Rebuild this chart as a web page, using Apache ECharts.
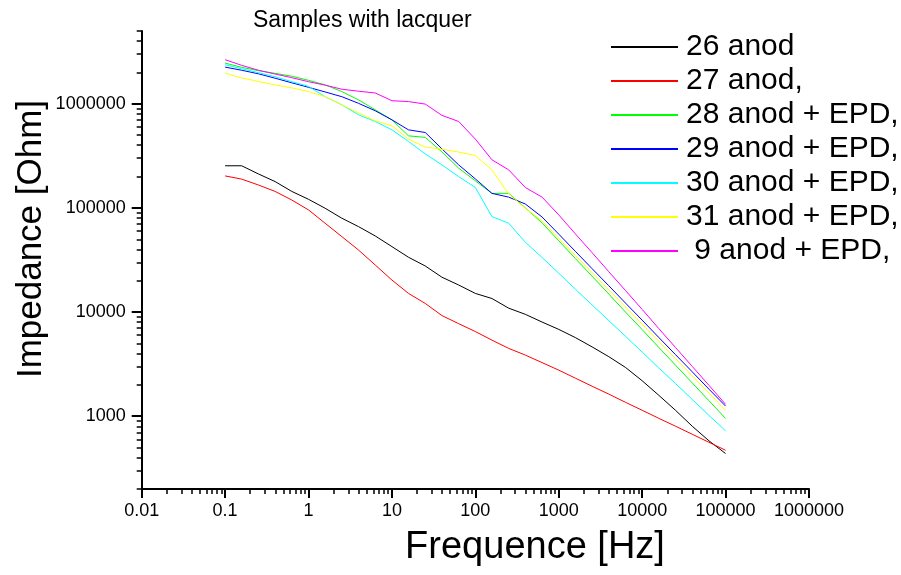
<!DOCTYPE html>
<html>
<head>
<meta charset="utf-8">
<script src="https://cdn.jsdelivr.net/npm/echarts@6.0.0/dist/echarts.min.js"></script>
<style>
html,body{margin:0;padding:0;background:#fff;}
#chart{width:901px;height:575px;}
</style>
</head>
<body>
<div id="chart"></div>
<script>
// Frequencies (Hz)
const freq = [0.1, 0.158, 0.251, 0.398, 0.631, 1, 1.58, 2.51, 3.98, 6.31, 10, 15.8, 25.1, 39.8, 63.1, 100, 158, 251, 398, 631, 1000, 1580, 2510, 3980, 6310, 10000, 15800, 25100, 39800, 63100, 100000];

// Impedance (Ohm)
const s26 = [254000,254000,212000,179000,144000,121000,99300,79600,66100,53800,42500,33600,27700,21600,18200,15100,13500,10900,9510,8020,6820,5690,4630,3730,2940,2190,1590,1140,802,581,438];
const s27 = [203000,189000,166000,144000,119000,95700,71300,53000,39400,28300,20300,15100,12100,9250,7740,6500,5380,4480,3860,3270,2770,2320,1940,1630,1360,1140,955,802,671,562,471];
const s28 = [2460000,2240000,2080000,1960000,1840000,1680000,1520000,1310000,1090000,875000,701000,492000,476000,345000,241000,182000,138000,138000,100000,71800,48400,32700,22100,14900,10000,6790,4580,3090,2090,1410,951];
const s29 = [2250000,2100000,1940000,1760000,1590000,1440000,1300000,1170000,1010000,857000,701000,562000,530000,369000,259000,190000,138000,127000,109000,81800,56000,38300,26100,17900,12200,8360,5710,3900,2670,1820,1250];
const s30 = [2370000,2170000,1990000,1820000,1630000,1470000,1170000,977000,783000,676000,562000,435000,330000,259000,200000,157000,82600,71300,46800,33400,23600,16600,11700,8280,5850,4130,2910,2060,1450,1020,723];
const s31 = [1970000,1770000,1640000,1520000,1420000,1310000,1170000,977000,815000,687000,614000,458000,384000,366000,344000,318000,232000,136000,99300,75000,51300,35100,23900,16400,11200,7660,5240,3580,2440,1670,1140];
const s9  = [2650000,2340000,2100000,1930000,1780000,1630000,1510000,1380000,1320000,1270000,1070000,1050000,993000,774000,676000,458000,290000,232000,157000,127000,85700,56400,37200,24400,16100,10600,6950,4570,3010,1980,1300];

const seriesNames = ['26 anod', '27 anod,', '28 anod + EPD,', '29 anod + EPD,', '30 anod + EPD,', '31 anod + EPD,', ' 9 anod + EPD,'];
const seriesColors = ['#000000', '#ff0000', '#00ff00', '#0000ff', '#00ffff', '#ffff00', '#ff00ff'];
const seriesValues = [s26, s27, s28, s29, s30, s31, s9];

// Tick labels
const xTickValues = [0.01, 0.1, 1, 10, 100, 1000, 10000, 100000, 1000000];
const xTickLabels = ['0.01', '0.1', '1', '10', '100', '1000', '10000', '100000', '1000000'];
const yTickValues = [1000, 10000, 100000, 1000000];
const yTickLabels = ['1000', '10000', '100000', '1000000'];

const titleText = 'Samples with lacquer';
const xName = 'Frequence [Hz]';
const yName = 'Impedance [Ohm]';

// minor ticks (2..9 x decade)
function minorTicks(lo, hi) {
  const out = [];
  for (let d = -3; d <= 7; d++) {
    for (let m = 2; m <= 9; m++) {
      const v = parseFloat((m * Math.pow(10, d)).toPrecision(6));
      if (v >= lo * 0.999 && v <= hi * 1.001) out.push(v);
    }
  }
  return out;
}
const xMinor = minorTicks(0.01, 1000000);
const yMinor = minorTicks(200, 5000000);

const FONT = '"Liberation Sans", Arial, sans-serif';

function labelFor(values, labels) {
  return function (v) {
    for (let i = 0; i < values.length; i++) {
      if (Math.abs(Math.log10(v) - Math.log10(values[i])) < 1e-6) return labels[i];
    }
    return '';
  };
}

const gridPos = { left: 141.7, right: 92, top: 31, bottom: 86 };

const chart = echarts.init(document.getElementById('chart'), null, { renderer: 'canvas' });
chart.setOption({
  animation: false,
  backgroundColor: '#ffffff',
  title: {
    text: titleText,
    left: 253, top: 9, padding: 0,
    textStyle: { fontFamily: FONT, fontSize: 23, fontWeight: 'normal', color: '#000' }
  },
  legend: {
    orient: 'vertical',
    left: 611, top: 32, padding: 0,
    itemWidth: 67, itemHeight: 2, itemGap: 4,
    icon: 'rect',
    data: seriesNames,
    textStyle: { fontFamily: FONT, fontSize: 30, color: '#000', lineHeight: 30, padding: [0, 0, 0, 3] }
  },
  grid: Object.assign({ containLabel: false, outerBoundsMode: 'none' }, gridPos),
  xAxis: [
    {
      type: 'log', logBase: 10, min: 0.01, max: 1000000,
      axisLine: { show: true, lineStyle: { color: '#000', width: 2 } },
      axisTick: { show: true, inside: false, length: 9, customValues: xTickValues, lineStyle: { color: '#000', width: 2 } },
      axisLabel: { show: true, customValues: xTickValues, formatter: labelFor(xTickValues, xTickLabels), fontFamily: FONT, fontSize: 18, color: '#000', margin: 13 },
      splitLine: { show: false }, minorTick: { show: false }
    },
    {
      type: 'log', logBase: 10, min: 0.01, max: 1000000, position: 'bottom', offset: 0,
      axisLine: { show: false },
      axisTick: { show: true, inside: false, length: 5, customValues: xMinor, lineStyle: { color: '#000', width: 1.5 } },
      axisLabel: { show: false },
      splitLine: { show: false }
    }
  ],
  yAxis: [
    {
      type: 'log', logBase: 10, min: 200, max: 5000000,
      axisLine: { show: true, lineStyle: { color: '#000', width: 2 } },
      axisTick: { show: true, inside: false, length: 10, customValues: yTickValues, lineStyle: { color: '#000', width: 2 } },
      axisLabel: { show: true, customValues: yTickValues, formatter: labelFor(yTickValues, yTickLabels), fontFamily: FONT, fontSize: 18, color: '#000', margin: 16 },
      splitLine: { show: false }
    },
    {
      type: 'log', logBase: 10, min: 200, max: 5000000, position: 'left', offset: 0,
      axisLine: { show: false },
      axisTick: { show: true, inside: false, length: 5, customValues: yMinor, lineStyle: { color: '#000', width: 1.5 } },
      axisLabel: { show: false },
      splitLine: { show: false }
    }
  ],
  graphic: [
    {
      type: 'text', x: 31, y: 239, rotation: Math.PI / 2,
      style: { text: yName, font: '35px ' + FONT, fill: '#000', textAlign: 'center', textVerticalAlign: 'middle' }
    },
    {
      type: 'text', x: 535, y: 548,
      style: { text: xName, font: '38px ' + FONT, fill: '#000', textAlign: 'center', textVerticalAlign: 'middle' }
    }
  ],
  series: seriesNames.map((name, i) => ({
    name: name,
    type: 'line',
    xAxisIndex: 0, yAxisIndex: 0,
    showSymbol: false,
    symbol: 'none',
    smooth: false,
    lineStyle: { color: seriesColors[i], width: 1 },
    itemStyle: { color: seriesColors[i] },
    emphasis: { disabled: true },
    data: freq.map((f, j) => [f, seriesValues[i][j]])
  }))
});
</script>
</body>
</html>
